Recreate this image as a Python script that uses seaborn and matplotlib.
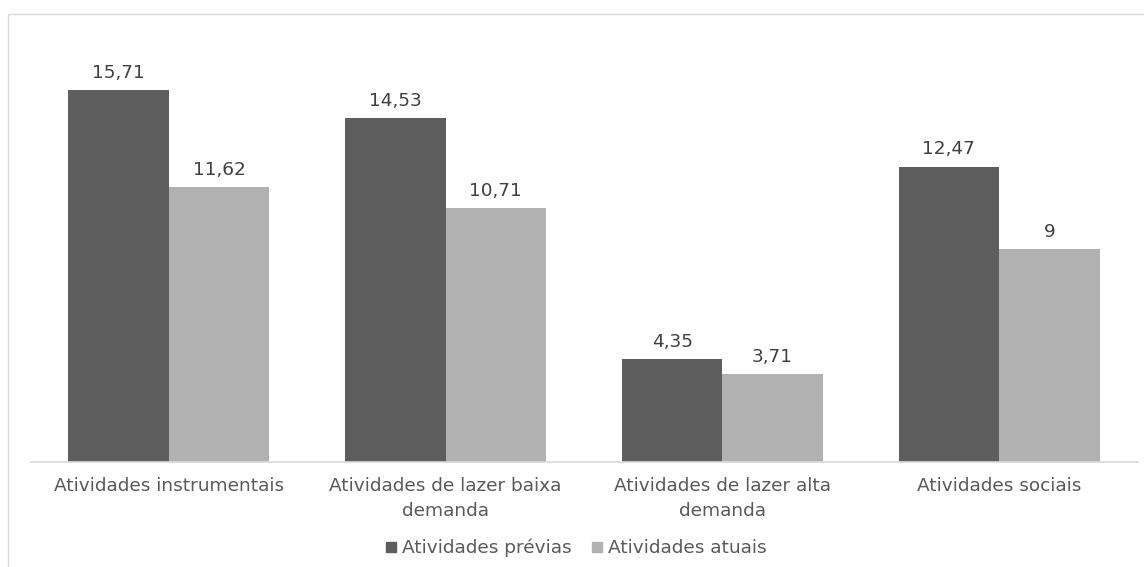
import matplotlib
matplotlib.use("Agg")
import matplotlib.pyplot as plt
import seaborn as sns
import pandas as pd
from matplotlib.patches import Rectangle
from matplotlib.lines import Line2D

categories = ["Atividades instrumentais", "Atividades de lazer baixa\ndemanda",
              "Atividades de lazer alta\ndemanda", "Atividades sociais"]
series_names = ["Atividades prévias", "Atividades atuais"]
previas = [15.71, 14.53, 4.35, 12.47]
atuais = [11.62, 10.71, 3.71, 9]
colors = ["#5e5e5e", "#b1b1b1"]

rows = []
for c, v in zip(categories, previas):
    rows.append({"cat": c, "serie": series_names[0], "valor": v})
for c, v in zip(categories, atuais):
    rows.append({"cat": c, "serie": series_names[1], "valor": v})
df = pd.DataFrame(rows)

sns.set_theme(style="white")
plt.rcParams['font.family'] = ['DejaVu Sans']

fig = plt.figure(figsize=(11.44, 5.67), dpi=100)
ax = fig.add_axes([30.5/1144, 1 - 462/567, (1137.5-30.5)/1144, (462-30)/567])

sns.barplot(data=df, x="cat", y="valor", hue="serie", palette=colors,
            width=0.726, gap=0, saturation=1, ax=ax, legend=False,
            errorbar=None, linewidth=0)

ax.set_ylim(0, (462-30)/23.68)
ax.set_xlim(-0.5, len(categories)-0.5)
ax.set_xlabel("")
ax.set_ylabel("")
ax.set_yticks([])
for s in ["top", "right", "left"]:
    ax.spines[s].set_visible(False)
ax.spines["bottom"].set_color("#d9d9d9")
ax.spines["bottom"].set_linewidth(1.2)
ax.tick_params(axis="x", length=0, pad=11, labelsize=13.3, labelcolor="#595959")
for t in ax.get_xticklabels():
    t.set_linespacing(1.5)

for cont in ax.containers:
    labels = [f"{v:g}".replace(".", ",") for v in cont.datavalues]
    ax.bar_label(cont, labels=labels, padding=6, fontsize=13.3, color="#404040")

handles = [Line2D([], [], marker="s", linestyle="none", markersize=7,
                  markerfacecolor=c, markeredgecolor=c) for c in colors]
fig.legend(handles, series_names, loc="center", bbox_to_anchor=(575/1144, 1 - 548/567),
           ncol=2, frameon=False, fontsize=13.3, labelcolor="#595959",
           handletextpad=0.2, columnspacing=1.0, handlelength=0.8)

fig.patches.append(Rectangle((8/1144, -0.2), 1.2, 1 - 14/567 + 0.2,
                             transform=fig.transFigure, fill=False,
                             edgecolor="#d9d9d9", linewidth=1))

fig.savefig("out.png", dpi=100, facecolor="white")
